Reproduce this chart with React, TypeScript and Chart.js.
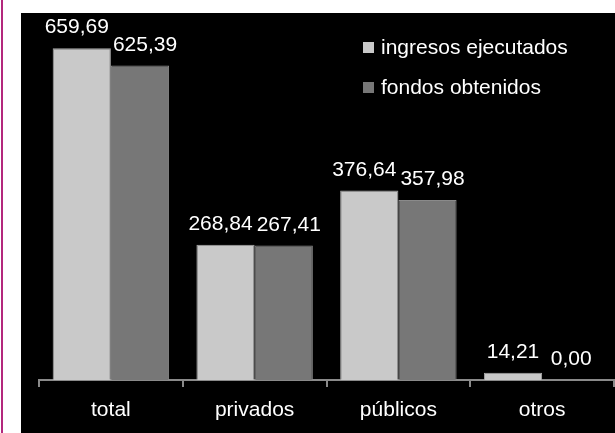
import React, { useEffect, useRef } from "react";
import { Chart, registerables } from "chart.js";

Chart.register(...registerables);

const categories = ["total", "privados", "públicos", "otros"];
const seriesNames = ["ingresos ejecutados", "fondos obtenidos"];
const ingresosEjecutados = [659.69, 268.84, 376.64, 14.21];
const fondosObtenidos = [625.39, 267.41, 357.98, 0.0];
const yMax = 700;

const FONT = "'Liberation Sans', Arial, Helvetica, sans-serif";
const LIGHT = "#c9c9c9";
const DARK = "#777777";

const fmt = (v: number) => v.toFixed(2).replace(".", ",");

const labelPlugin = {
  id: "valueLabels",
  afterDatasetsDraw(chart: any) {
    const ctx = chart.ctx;
    ctx.save();
    ctx.fillStyle = "#ffffff";
    ctx.font = `21px ${FONT}`;
    ctx.textAlign = "center";
    ctx.textBaseline = "alphabetic";
    const m0 = chart.getDatasetMeta(0);
    const m1 = chart.getDatasetMeta(1);
    const d0 = chart.data.datasets[0].data;
    const d1 = chart.data.datasets[1].data;
    m0.data.forEach((el0: any, i: number) => {
      const el1 = m1.data[i];
      const t0 = fmt(d0[i]);
      const t1 = fmt(d1[i]);
      const w0 = ctx.measureText(t0).width;
      const w1 = ctx.measureText(t1).width;
      let x0 = el0.x;
      let x1 = el1.x;
      const y0 = el0.y - 15;
      const y1 = el1.y - 15;
      // push apart when labels at similar heights would collide
      const overlap = x0 + w0 / 2 + 4 - (x1 - w1 / 2);
      if (overlap > 0 && Math.abs(y0 - y1) < 20) {
        x0 -= overlap / 2;
        x1 += overlap / 2;
      }
      ctx.fillText(t0, x0, y0);
      ctx.fillText(t1, x1, y1);
    });
    ctx.restore();
  },
};

const legendPlugin = {
  id: "customLegend",
  afterDraw(chart: any) {
    const ctx = chart.ctx;
    ctx.save();
    ctx.font = `21px ${FONT}`;
    ctx.textAlign = "left";
    ctx.textBaseline = "middle";
    chart.data.datasets.forEach((ds: any, di: number) => {
      const cy = 35 + di * 40;
      ctx.fillStyle = ds.backgroundColor;
      ctx.fillRect(342, cy - 6, 11, 11);
      ctx.fillStyle = "#ffffff";
      ctx.fillText(ds.label, 360, cy);
    });
    ctx.restore();
  },
};

export default function App() {
  const ref = useRef<HTMLCanvasElement>(null);
  useEffect(() => {
    if (!ref.current) return;
    const chart = new Chart(ref.current, {
      type: "bar",
      data: {
        labels: categories,
        datasets: [
          {
            label: seriesNames[0],
            data: ingresosEjecutados,
            backgroundColor: LIGHT,
            borderColor: "#a8a8a8",
            borderWidth: 1,
            categoryPercentage: 0.81,
            barPercentage: 1,
          },
          {
            label: seriesNames[1],
            data: fondosObtenidos,
            backgroundColor: DARK,
            borderColor: "#8a8a8a",
            borderWidth: 1,
            categoryPercentage: 0.81,
            barPercentage: 1,
          },
        ],
      },
      options: {
        animation: false,
        responsive: false,
        maintainAspectRatio: false,
        layout: { padding: { left: 18, right: 1, top: 15, bottom: 0 } },
        plugins: {
          legend: { display: false },
          tooltip: { enabled: false },
        },
        scales: {
          x: {
            grid: {
              display: true,
              drawOnChartArea: false,
              drawTicks: true,
              tickLength: 7,
              color: "#8a8a8a",
              lineWidth: 2,
              offset: true,
            },
            border: { display: true, color: "#8a8a8a", width: 2 },
            ticks: {
              color: "#ffffff",
              font: { family: FONT, size: 21 },
              padding: 11,
            },
            afterFit(scale: any) {
              scale.height = 53;
            },
          },
          y: {
            display: false,
            min: 0,
            max: yMax,
          },
        },
      },
      plugins: [labelPlugin, legendPlugin],
    });
    return () => chart.destroy();
  }, []);

  return (
    <div
      style={{
        position: "fixed",
        left: 0,
        top: 0,
        width: 615,
        height: 433,
        background: "#ffffff",
        overflow: "hidden",
      }}
    >
      <div
        style={{
          position: "absolute",
          left: 1,
          top: 0,
          width: 2,
          height: 433,
          background: "#b3287d",
        }}
      />
      <div
        style={{
          position: "absolute",
          left: 21,
          top: 13,
          width: 594,
          height: 420,
          background: "#000000",
        }}
      >
        <canvas ref={ref} width={594} height={420} style={{ display: "block" }} />
      </div>
    </div>
  );
}
